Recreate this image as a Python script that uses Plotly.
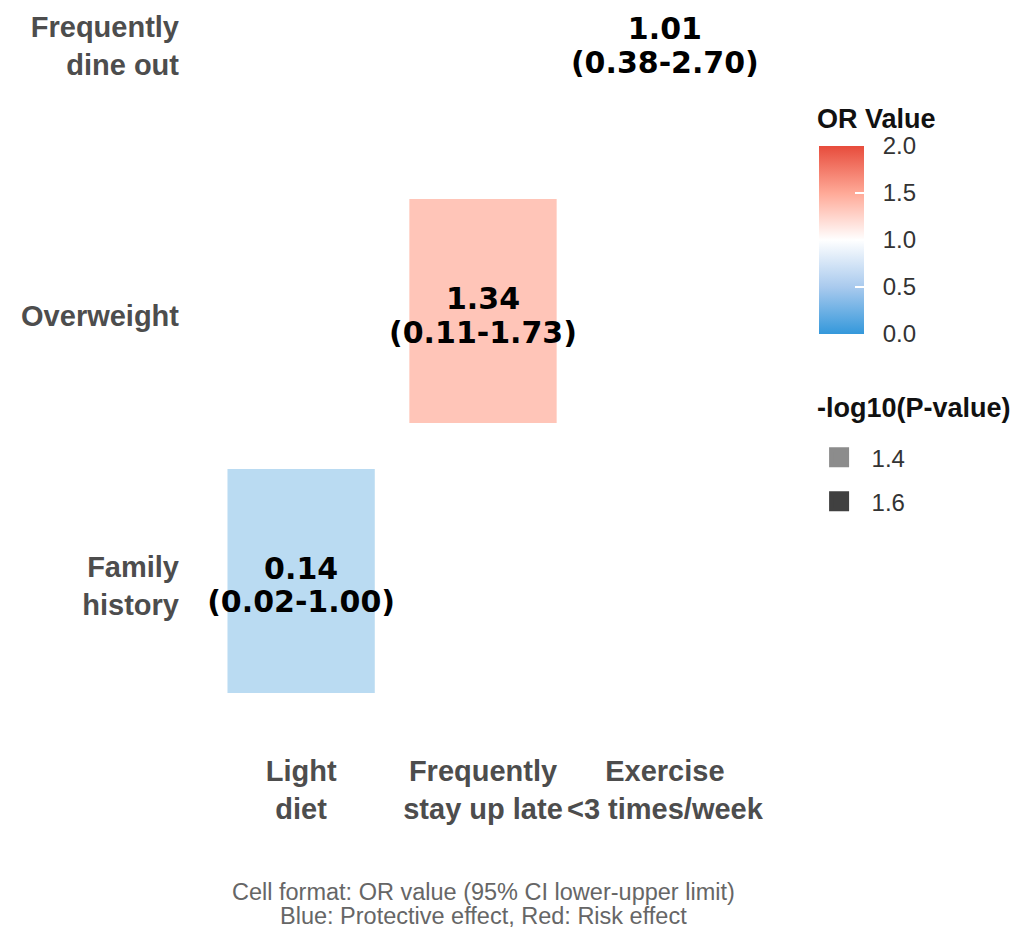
import plotly.graph_objects as go

# ---------------- data ----------------
row_labels = ["Family<br>history", "Overweight", "Frequently<br>dine out"]
col_labels = ["Light<br>diet", "Frequently<br>stay up late", "Exercise<br>&lt;3 times/week"]

cell_row = ["Family<br>history", "Overweight", "Frequently<br>dine out"]
cell_col = ["Light<br>diet", "Frequently<br>stay up late", "Exercise<br>&lt;3 times/week"]
or_value = [0.14, 1.34, 1.01]
ci_low = [0.02, 0.11, 0.38]
ci_high = [1.00, 1.73, 2.70]
neglog10p = [1.37, 1.77, 1.17]

alpha_breaks = [1.4, 1.6]
or_ticks = [0.0, 0.5, 1.0, 1.5, 2.0]

caption_lines = ["Cell format: OR value (95% CI lower-upper limit)",
                 "Blue: Protective effect, Red: Risk effect"]

# ---------------- styling helpers ----------------
TILE_W = 0.81
TILE_H = 0.83
OR_NUDGE = -0.0185              # small downward nudges of the cell labels
CI_NUDGE = -0.0333
P_MIN, P_MAX = 1.1667, 1.7667   # alpha scale domain (range 0.1 - 1)


def alpha_of(p):
    a = 0.1 + (p - P_MIN) / (P_MAX - P_MIN) * 0.9
    return max(0.1, min(1.0, a))


colorscale = [
    [0.0, "#3498DB"],
    [0.25, "#A9CAEE"],
    [0.5, "#FFFFFF"],
    [0.75, "#FFA997"],
    [1.0, "#E74C3C"],
]

FONT = "Liberation Sans, Arial, sans-serif"
NB = "\u00a0\u00a0"   # small gap between colourbar and its labels

xi = [col_labels.index(c) + 1 for c in cell_col]
yi = [row_labels.index(r) + 1 for r in cell_row]

fig = go.Figure()

# tiles
fig.add_trace(go.Bar(
    orientation="h",
    y=yi,
    x=[TILE_W] * len(xi),
    base=[x - TILE_W / 2 for x in xi],
    width=TILE_H,
    marker=dict(
        color=or_value,
        colorscale=colorscale,
        cmin=0, cmax=2,
        opacity=[alpha_of(p) for p in neglog10p],
        line=dict(width=0),
        showscale=True,
        colorbar=dict(
            x=1.0773, xanchor="left", xpad=0,
            y=0.677, yanchor="middle", ypad=0,
            len=188, lenmode="pixels",
            thickness=45,
            outlinewidth=0,
            tickvals=or_ticks,
            ticktext=[NB + f"{t:.1f}" for t in or_ticks],
            ticks="inside", ticklen=9, tickwidth=2, tickcolor="white",
            tickfont=dict(family=FONT, size=24, color="#333333"),
        ),
    ),
    showlegend=False,
    hoverinfo="skip",
))

# cell text: OR value above centre, CI below centre
cell_font = dict(family="DejaVu Sans", size=30, color="#000000", weight="bold")
fig.add_trace(go.Scatter(
    x=xi, y=[y + OR_NUDGE for y in yi], mode="text",
    text=[f"{o:.2f}" for o in or_value],
    textposition="top center",
    textfont=cell_font,
    showlegend=False, hoverinfo="skip",
))
fig.add_trace(go.Scatter(
    x=xi, y=[y + CI_NUDGE for y in yi], mode="text",
    text=[f"({l:.2f}-{h:.2f})" for l, h in zip(ci_low, ci_high)],
    textposition="bottom center",
    textfont=cell_font,
    showlegend=False, hoverinfo="skip",
))

# alpha legend
for b in alpha_breaks:
    g = int(round(255 * (1 - alpha_of(b))))
    col = f"rgb({g},{g},{g})"
    fig.add_trace(go.Scatter(
        x=[None], y=[None], mode="markers",
        marker=dict(symbol="square", size=16, color=col, line=dict(color=col, width=4)),
        name=f"{b:.1f}", legendgroup=f"{b}",
    ))

axis_font = dict(family=FONT, size=29, color="#4D4D4D", weight="bold")
cap_font = dict(family=FONT, size=23.5, color="#666666")
title_font = dict(family=FONT, size=27, color="#111111")

fig.update_layout(
    width=1010, height=931,
    margin=dict(l=192, r=236, t=0, b=188),
    paper_bgcolor="white", plot_bgcolor="white",
    xaxis=dict(range=[0.4, 3.6], tickvals=[1, 2, 3], ticktext=col_labels,
               tickangle=0,
               showgrid=False, zeroline=False, showline=False, ticks="",
               tickfont=axis_font, ticklabelstandoff=8, fixedrange=True),
    yaxis=dict(range=[0.4, 3.1519], tickvals=[1, 2, 3], ticktext=row_labels,
               showgrid=False, zeroline=False, showline=False, ticks="",
               tickfont=axis_font, ticklabelstandoff=12, ticklabelshift=5,
               fixedrange=True),
    legend=dict(
        x=1.0560, xanchor="left", y=0.4145, yanchor="top",
        font=dict(family=FONT, size=24, color="#333333"),
        itemwidth=55,
        tracegroupgap=10, bgcolor="rgba(0,0,0,0)",
    ),
    showlegend=True,
    annotations=[
        dict(text="<b>OR Value</b>", xref="paper", yref="paper",
             x=1.0704, y=0.8398, xanchor="left", yanchor="middle", showarrow=False,
             font=title_font),
        dict(text="<b>-log10(P-value)</b>", xref="paper", yref="paper",
             x=1.0704, y=0.4509, xanchor="left", yanchor="middle", showarrow=False,
             font=title_font),
        dict(text=caption_lines[0], xref="paper", yref="paper",
             x=0.5, y=-0.2005, xanchor="center", yanchor="middle", showarrow=False,
             font=cap_font),
        dict(text=caption_lines[1], xref="paper", yref="paper",
             x=0.5, y=-0.2328, xanchor="center", yanchor="middle", showarrow=False,
             font=cap_font),
    ],
)

fig.write_html("out.html")
